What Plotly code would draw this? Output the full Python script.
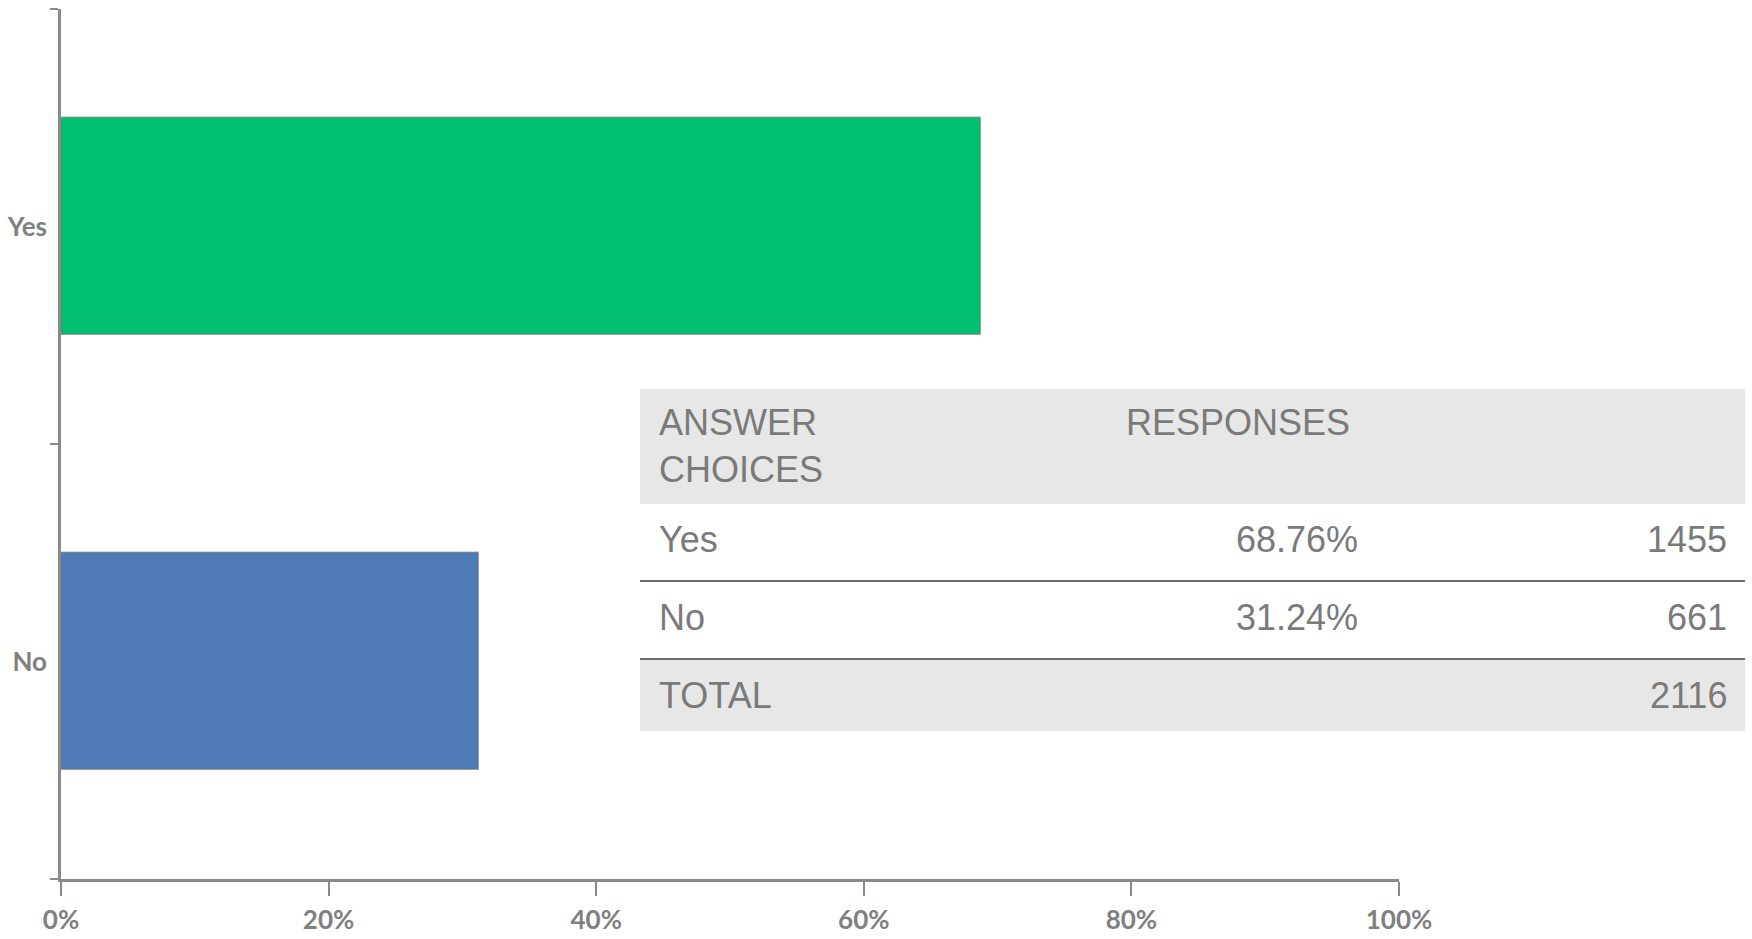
import plotly.graph_objects as go

# Survey results
choices = ["Yes", "No"]
percents = [68.76, 31.24]
counts = [1455, 661]
total = 2116
bar_colors = ["#00BF6F", "#4E7AB5"]

x_ticks = [0, 20, 40, 60, 80, 100]
x_tick_labels = ["0%", "20%", "40%", "60%", "80%", "100%"]

W, H = 1752, 939
# plot-area edges in pixels
L, R, T, B = 61, 1399, 9, 879


def px(x):
    return (x - L) / (R - L)


def py(y):
    return (B - y) / (B - T)


fig = go.Figure()
fig.add_trace(
    go.Bar(
        x=percents,
        y=choices,
        orientation="h",
        width=0.5,
        marker=dict(color=bar_colors, line=dict(color="rgba(110,110,110,0.55)", width=1.5)),
        hoverinfo="skip",
    )
)

axis_gray = "#8a8a8a"
tick_font = dict(family="Lato", size=26, color="#808080", weight="bold")

fig.update_layout(
    width=W,
    height=H,
    margin=dict(l=L, r=W - R, t=T, b=H - B, pad=0),
    paper_bgcolor="white",
    plot_bgcolor="white",
    showlegend=False,
    bargap=0,
    xaxis=dict(
        range=[0, 100],
        tickvals=x_ticks,
        ticktext=x_tick_labels,
        showgrid=False,
        zeroline=False,
        showline=True,
        linecolor=axis_gray,
        linewidth=3,
        ticks="outside",
        ticklen=14,
        tickwidth=2,
        tickcolor=axis_gray,
        tickfont=tick_font,
        ticklabelstandoff=2,
        automargin=False,
        fixedrange=True,
    ),
    yaxis=dict(
        type="category",
        categoryorder="array",
        categoryarray=["No", "Yes"],
        range=[-0.5, 1.5],
        showgrid=False,
        zeroline=False,
        showline=True,
        linecolor=axis_gray,
        linewidth=2.5,
        ticks="outside",
        tickson="boundaries",
        ticklen=8,
        tickwidth=2,
        tickcolor=axis_gray,
        tickfont=tick_font,
        ticklabelstandoff=6,
        automargin=False,
        fixedrange=True,
    ),
)

# Response table drawn beside the bars
tx0, tx1 = 640, 1745
header_top, header_bot = 389, 504
row_lines = [581, 659]
total_bot = 731
table_fill = "#e7e7e7"
rule_color = "#6e6e6e"
text_color = "#7a7a7a"
tfont = dict(family="Liberation Sans, Arial, sans-serif", size=36, color=text_color)

shapes = [
    dict(type="rect", xref="paper", yref="paper", x0=px(tx0), x1=px(tx1),
         y0=py(header_bot), y1=py(header_top), fillcolor=table_fill, line=dict(width=0), layer="above"),
    dict(type="rect", xref="paper", yref="paper", x0=px(tx0), x1=px(tx1),
         y0=py(total_bot), y1=py(row_lines[1]), fillcolor=table_fill, line=dict(width=0), layer="above"),
]
for yl in row_lines:
    shapes.append(dict(type="line", xref="paper", yref="paper", x0=px(tx0), x1=px(tx1),
                       y0=py(yl), y1=py(yl), line=dict(color=rule_color, width=2), layer="above"))
fig.update_layout(shapes=shapes)

text_left = 657
pct_right = 1360
count_right = 1729
row_centers = [539, 617]
total_center = 695


def label(text, x, y, anchor):
    fig.add_annotation(text=text, x=px(x), y=py(y), xref="paper", yref="paper",
                       xanchor=anchor, yanchor="middle", showarrow=False, font=tfont)


label("ANSWER", text_left, 423, "left")
label("CHOICES", text_left, 469, "left")
label("RESPONSES", 1124, 423, "left")
for name, pct, cnt, yc in zip(choices, percents, counts, row_centers):
    label(name, text_left, yc, "left")
    label(f"{pct:.2f}%", pct_right, yc, "right")
    label(str(cnt), count_right, yc, "right")
label("TOTAL", text_left, total_center, "left")
label(str(total), count_right, total_center, "right")

fig.write_html("out.html", config={"displayModeBar": False})
